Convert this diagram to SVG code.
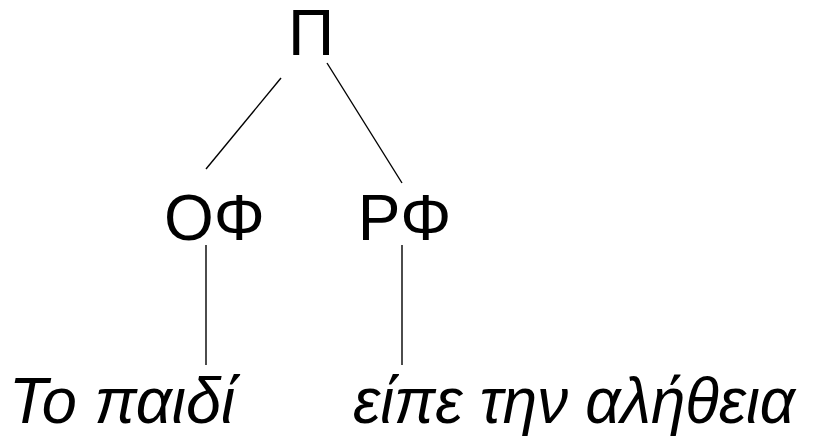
<svg xmlns="http://www.w3.org/2000/svg" width="819" height="436" viewBox="0 0 819 436">
<style>
.lbl{font-family:"Liberation Sans",Arial,sans-serif;font-size:64px;fill:#000;text-anchor:middle}
.leaf{font-family:"Liberation Sans",Arial,sans-serif;font-size:64px;font-style:italic;fill:#000}
.edge{stroke:#000;stroke-width:1.4;fill:none}
</style>
<rect width="819" height="436" fill="#fff"/>
<g id="connectors">
<line class="edge" x1="281" y1="78" x2="206" y2="169"/>
<line class="edge" x1="327" y1="63" x2="402" y2="183"/>
<line class="edge" x1="206" y1="245" x2="206" y2="365"/>
<line class="edge" x1="402" y1="245" x2="402" y2="365"/>
</g>
<g id="node-P"><text class="lbl" x="311" y="55">Π</text></g>
<g id="node-OF"><text class="lbl" x="214.5" y="240">ΟΦ</text></g>
<g id="node-RF"><text class="lbl" x="404.5" y="240">ΡΦ</text></g>
<g id="leaf-left"><text class="leaf" x="9" y="423" textLength="226" lengthAdjust="spacingAndGlyphs">Το παιδί</text></g>
<g id="leaf-right"><text class="leaf" x="353" y="423" textLength="442" lengthAdjust="spacingAndGlyphs">είπε την αλήθεια</text></g>
</svg>
